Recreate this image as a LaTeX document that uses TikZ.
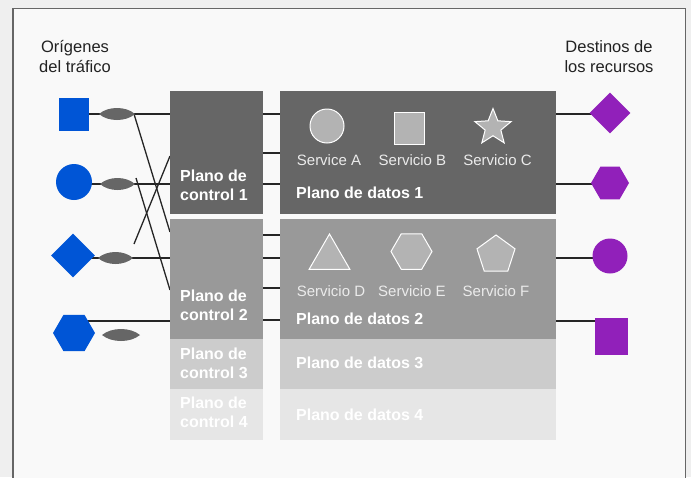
\documentclass[tikz,border=0pt]{standalone}
\usepackage{fontspec}
\setmainfont{Liberation Sans}
\usetikzlibrary{shapes.geometric}
\pgfdeclarelayer{bottom}
\pgfdeclarelayer{wires}
\pgfsetlayers{bottom,wires,main}
\definecolor{bgc}{HTML}{EFEFEF}
\definecolor{panelc}{HTML}{F9F9F9}
\definecolor{framec}{HTML}{666666}
\definecolor{gA}{HTML}{666666}
\definecolor{gB}{HTML}{999999}
\definecolor{gC}{HTML}{CCCCCC}
\definecolor{gD}{HTML}{E6E6E6}
\definecolor{svcc}{HTML}{B3B3B3}
\definecolor{svctext}{HTML}{EBEBEB}
\definecolor{srcblue}{HTML}{0055D6}
\definecolor{dstpurple}{HTML}{9120BA}
\definecolor{wirec}{HTML}{262626}
\definecolor{lensc}{HTML}{666666}
\definecolor{labelc}{HTML}{222222}
\begin{document}
\begin{tikzpicture}[x=1pt,y=-1pt,
  wire/.style={draw=wirec, line width=1.3pt},
  lens/.style={fill=lensc},
  plane/.style={rectangle, inner sep=0pt, anchor=north west, minimum width=#1},
  ptext/.style={text=white, font=\fontsize{16}{18.5}\selectfont\bfseries, align=left, anchor=west, inner sep=0pt},
  svclabel/.style={text=svctext, font=\fontsize{15}{18}\selectfont, inner sep=0pt},
  svcshape/.style={fill=svcc, draw=white, line width=1pt, inner sep=0pt},
  src/.style={fill=srcblue, inner sep=0pt},
  dst/.style={fill=dstpurple, inner sep=0pt},
  toplabel/.style={font=\fontsize{16.5}{20}\selectfont, text=labelc, align=center, inner sep=0pt}
]
\useasboundingbox (0,0) rectangle (691,477);
\begin{pgfonlayer}{bottom}
\fill[bgc] (0,0) rectangle (691,477);
\fill[panelc] (13,8.5) rectangle (685.5,480);
\draw[framec, line width=1.5pt] (13,480) -- (13,8.5) -- (685.5,8.5) -- (685.5,480);
\end{pgfonlayer}

% top labels
\node[toplabel] (srclabel) at (75,57) {Orígenes\\del tráfico};
\node[toplabel] (dstlabel) at (609,57) {Destinos de\\los recursos};

% control planes
\node[plane=93pt, fill=gA, minimum height=123pt] (c1) at (170,91) {};
\node[plane=93pt, fill=gB, minimum height=120pt] (c2) at (170,219) {};
\node[plane=93pt, fill=gC, minimum height=50pt] (c3) at (170,339) {};
\node[plane=93pt, fill=gD, minimum height=51pt] (c4) at (170,389) {};
% data planes
\node[plane=276pt, fill=gA, minimum height=123pt] (d1) at (280,91) {};
\node[plane=276pt, fill=gB, minimum height=120pt] (d2) at (280,219) {};
\node[plane=276pt, fill=gC, minimum height=50pt] (d3) at (280,339) {};
\node[plane=276pt, fill=gD, minimum height=51pt] (d4) at (280,389) {};

\node[ptext] (c1t) at (180,185.5) {Plano de\\control 1};
\node[ptext] (c2t) at (180,305.5) {Plano de\\control 2};
\node[ptext] (c3t) at (180,363.5) {Plano de\\control 3};
\node[ptext] (c4t) at (180,412.5) {Plano de\\control 4};
\node[ptext] (d1t) at (296,193) {Plano de datos 1};
\node[ptext] (d2t) at (296,319) {Plano de datos 2};
\node[ptext] (d3t) at (296,363) {Plano de datos 3};
\node[ptext] (d4t) at (296,415) {Plano de datos 4};

% services
\node[svcshape, circle, minimum size=34pt] (sa) at (327,126) {};
\node[svcshape, rectangle, minimum width=30pt, minimum height=32pt] (sb) at (409,128) {};
\node[svcshape, star, star points=5, star point ratio=2.3, minimum size=38pt] (sc) at (493,127.5) {};
\node[svclabel] (sal) at (329,160) {Service A};
\node[svclabel] (sbl) at (412.5,160) {Servicio B};
\node[svclabel] (scl) at (497.5,160) {Servicio C};
\node[svcshape, regular polygon, regular polygon sides=3, minimum size=47pt] (sd) at (329.5,257.5) {};
\node[svcshape, regular polygon, regular polygon sides=6, minimum size=41pt] (se) at (411.5,251.5) {};
\node[svcshape, regular polygon, regular polygon sides=5, minimum size=40pt] (sf) at (496,255) {};
\node[svclabel] (sdl) at (331,291) {Servicio D};
\node[svclabel] (sel) at (412,291) {Servicio E};
\node[svclabel] (sfl) at (496,291) {Servicio F};

% sources
\node[src, rectangle, minimum width=30pt, minimum height=33pt] (lsq) at (74,114) {};
\node[src, circle, minimum size=36pt] (lci) at (74,182) {};
\node[src, diamond, minimum size=44pt] (ldi) at (73,255.5) {};
\node[src, regular polygon, regular polygon sides=6, minimum size=42pt] (lhx) at (74,333) {};
% destinations
\node[dst, diamond, minimum size=41pt] (rdi) at (610,113) {};
\node[dst, regular polygon, regular polygon sides=6, minimum size=38pt] (rhx) at (610,183) {};
\node[dst, circle, minimum size=35pt] (rci) at (610,256) {};
\node[dst, rectangle, minimum width=33pt, minimum height=37pt] (rsq) at (611,336) {};

% lens end points
\coordinate (ea) at (134,114);
\coordinate (eb) at (136,178);
\coordinate (ec) at (134,244);

\begin{pgfonlayer}{wires}
\draw[wire] (lsq.center |- 0,114) -- (c1.west |- 0,114);
\draw[wire] (lci.center |- 0,184) -- (c1.west |- 0,184);
\draw[wire] (ldi.center |- 0,258) -- (c2.west |- 0,258);
\draw[wire] (lhx.center |- 0,321) -- (c2.west |- 0,321);
\draw[wire] (ea) -- (c2.west |- 0,232);
\draw[wire] (eb) -- (c2.west |- 0,290);
\draw[wire] (ec) -- (c1.west |- 0,156);
\draw[wire] (c1.east |- 0,114) -- (d1.west |- 0,114);
\draw[wire] (c1.east |- 0,153) -- (d1.west |- 0,153);
\draw[wire] (c1.east |- 0,184) -- (d1.west |- 0,184);
\draw[wire] (c2.east |- 0,235) -- (d2.west |- 0,235);
\draw[wire] (c2.east |- 0,258) -- (d2.west |- 0,258);
\draw[wire] (c2.east |- 0,288) -- (d2.west |- 0,288);
\draw[wire] (c2.east |- 0,320) -- (d2.west |- 0,320);
\draw[wire] (d1.east |- 0,114) -- (rdi.center |- 0,114);
\draw[wire] (d1.east |- 0,184) -- (rhx.center |- 0,184);
\draw[wire] (d2.east |- 0,258) -- (rci.center |- 0,258);
\draw[wire] (d2.east |- 0,321) -- (rsq.center |- 0,321);
\end{pgfonlayer}

% lenses
\fill[lens] (99,114) .. controls (108,106) and (126,106) .. (135,114) .. controls (126,122) and (108,122) .. (99,114) -- cycle;
\fill[lens] (100,184) .. controls (109,176) and (126,176) .. (135,184) .. controls (126,192) and (109,192) .. (100,184) -- cycle;
\fill[lens] (98,258) .. controls (107,250) and (124,250) .. (133,258) .. controls (124,266) and (107,266) .. (98,258) -- cycle;
\fill[lens] (102,335) .. controls (111.5,327) and (130.5,327) .. (140,335) .. controls (130.5,343) and (111.5,343) .. (102,335) -- cycle;
\end{tikzpicture}
\end{document}
